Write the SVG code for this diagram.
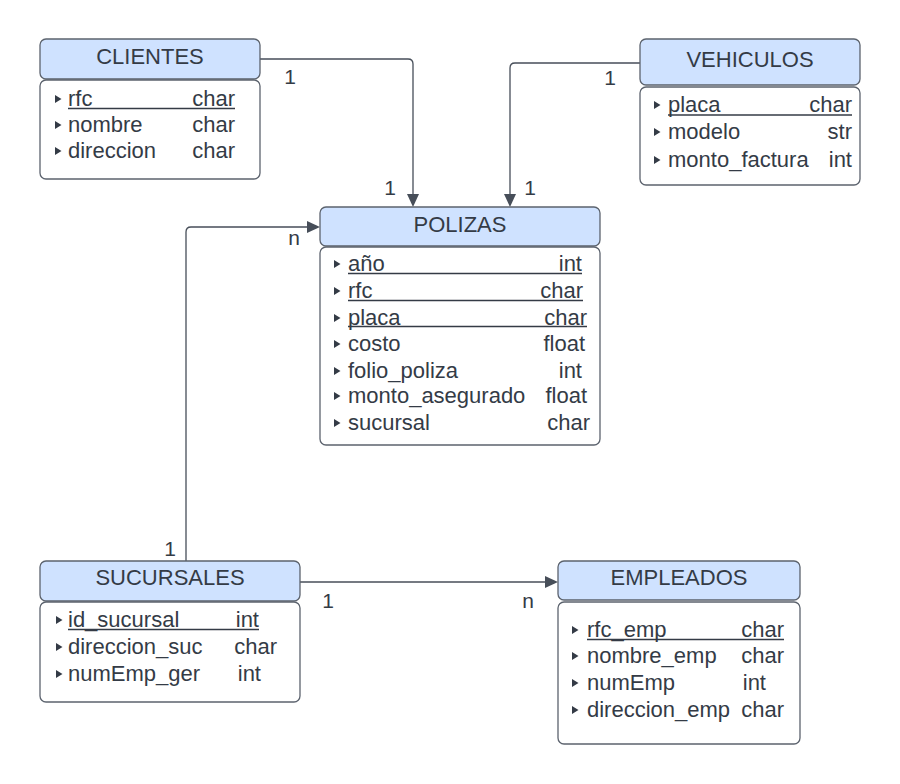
<svg xmlns="http://www.w3.org/2000/svg" width="900" height="784" viewBox="0 0 900 784">
<defs>
<style>
.hd{fill:#cfe2ff;stroke:#5c636e;stroke-width:1.3}
.bd{fill:#ffffff;stroke:#5c636e;stroke-width:1.3}
text{font-family:"Liberation Sans",Arial,sans-serif;fill:#343b46}
.t{font-size:22px;text-anchor:middle}
.r{font-size:22px}
.e{text-anchor:end}
.lb{font-size:21px;text-anchor:middle}
.u{stroke:#343b46;stroke-width:1.5}
.bl{fill:#343b46}
.c{fill:none;stroke:#474e59;stroke-width:1.3}
.ah{fill:#474e59}
</style>
<polygon id="b" points="0,-4 6.5,0 0,4"/>
</defs>
<g id="connectors">
<path class="c" d="M260,59 H408 Q413,59 413,64 V196"/>
<polygon class="ah" points="413,207 407,194 419,194"/>
<path class="c" d="M640,63 H515 Q510,63 510,68 V196"/>
<polygon class="ah" points="510,207 504,194 516,194"/>
<path class="c" d="M186,561 V232 Q186,227 191,227 H309"/>
<polygon class="ah" points="320,227 307,221 307,233"/>
<path class="c" d="M300,582 H547"/>
<polygon class="ah" points="558,582 545,576 545,588"/>
<text class="lb" x="290" y="84">1</text>
<text class="lb" x="390" y="195">1</text>
<text class="lb" x="610" y="85">1</text>
<text class="lb" x="530" y="195">1</text>
<text class="lb" x="294" y="245">n</text>
<text class="lb" x="170" y="556">1</text>
<text class="lb" x="328" y="608">1</text>
<text class="lb" x="528" y="608">n</text>
</g>
<g id="clientes">
<rect class="hd" x="40" y="39" width="220" height="40" rx="6"/>
<rect class="bd" x="40" y="80" width="220" height="99" rx="6"/>
<text class="t" x="150" y="64">CLIENTES</text>
<use href="#b" class="bl" x="55" y="99"/>
<use href="#b" class="bl" x="55" y="125"/>
<use href="#b" class="bl" x="55" y="151"/>
<text class="r" x="68" y="106">rfc</text><text class="r e" x="235" y="106">char</text>
<line class="u" x1="68" y1="108.5" x2="235" y2="108.5"/>
<text class="r" x="68" y="132">nombre</text><text class="r e" x="235" y="132">char</text>
<text class="r" x="68" y="158">direccion</text><text class="r e" x="235" y="158">char</text>
</g>
<g id="vehiculos">
<rect class="hd" x="640" y="39" width="220" height="46" rx="6"/>
<rect class="bd" x="640" y="87" width="220" height="98" rx="6"/>
<text class="t" x="750" y="67">VEHICULOS</text>
<use href="#b" class="bl" x="654" y="105"/>
<use href="#b" class="bl" x="654" y="132"/>
<use href="#b" class="bl" x="654" y="160"/>
<text class="r" x="668" y="112">placa</text><text class="r e" x="852" y="112">char</text>
<line class="u" x1="668" y1="115" x2="852" y2="115"/>
<text class="r" x="668" y="139">modelo</text><text class="r e" x="852" y="139">str</text>
<text class="r" x="668" y="167">monto_factura</text><text class="r e" x="852" y="167">int</text>
</g>
<g id="polizas">
<rect class="hd" x="320" y="207" width="280" height="39" rx="6"/>
<rect class="bd" x="320" y="247" width="280" height="198" rx="6"/>
<text class="t" x="460" y="232">POLIZAS</text>
<use href="#b" class="bl" x="334" y="264"/>
<use href="#b" class="bl" x="334" y="291"/>
<use href="#b" class="bl" x="334" y="318"/>
<use href="#b" class="bl" x="334" y="344"/>
<use href="#b" class="bl" x="334" y="371"/>
<use href="#b" class="bl" x="334" y="396"/>
<use href="#b" class="bl" x="334" y="423"/>
<text class="r" x="348" y="271">año</text><text class="r e" x="582" y="271">int</text>
<line class="u" x1="348" y1="273.5" x2="582" y2="273.5"/>
<text class="r" x="348" y="298">rfc</text><text class="r e" x="583" y="298">char</text>
<line class="u" x1="348" y1="300.5" x2="583" y2="300.5"/>
<text class="r" x="348" y="325">placa</text><text class="r e" x="587" y="325">char</text>
<line class="u" x1="348" y1="326.5" x2="587" y2="326.5"/>
<text class="r" x="348" y="351">costo</text><text class="r e" x="585" y="351">float</text>
<text class="r" x="348" y="378">folio_poliza</text><text class="r e" x="582" y="378">int</text>
<text class="r" x="348" y="403">monto_asegurado</text><text class="r e" x="587" y="403">float</text>
<text class="r" x="348" y="430">sucursal</text><text class="r e" x="590" y="430">char</text>
</g>
<g id="sucursales">
<rect class="hd" x="40" y="561" width="260" height="40" rx="6"/>
<rect class="bd" x="40" y="602" width="260" height="100" rx="6"/>
<text class="t" x="170" y="585">SUCURSALES</text>
<use href="#b" class="bl" x="56" y="620"/>
<use href="#b" class="bl" x="56" y="647"/>
<use href="#b" class="bl" x="56" y="674"/>
<text class="r" x="68" y="627">id_sucursal</text><text class="r e" x="259" y="627">int</text>
<line class="u" x1="68" y1="629.5" x2="259" y2="629.5"/>
<text class="r" x="68" y="654">direccion_suc</text><text class="r e" x="277" y="654">char</text>
<text class="r" x="68" y="681">numEmp_ger</text><text class="r e" x="261" y="681">int</text>
</g>
<g id="empleados">
<rect class="hd" x="558" y="561" width="242" height="39" rx="6"/>
<rect class="bd" x="558" y="602" width="242" height="142" rx="6"/>
<text class="t" x="679" y="585">EMPLEADOS</text>
<use href="#b" class="bl" x="572" y="630"/>
<use href="#b" class="bl" x="572" y="656"/>
<use href="#b" class="bl" x="572" y="683"/>
<use href="#b" class="bl" x="572" y="710"/>
<text class="r" x="587" y="637">rfc_emp</text><text class="r e" x="784" y="637">char</text>
<line class="u" x1="587" y1="639.5" x2="784" y2="639.5"/>
<text class="r" x="587" y="663">nombre_emp</text><text class="r e" x="784" y="663">char</text>
<text class="r" x="587" y="690">numEmp</text><text class="r e" x="766" y="690">int</text>
<text class="r" x="587" y="717">direccion_emp</text><text class="r e" x="784" y="717">char</text>
</g>
</svg>
